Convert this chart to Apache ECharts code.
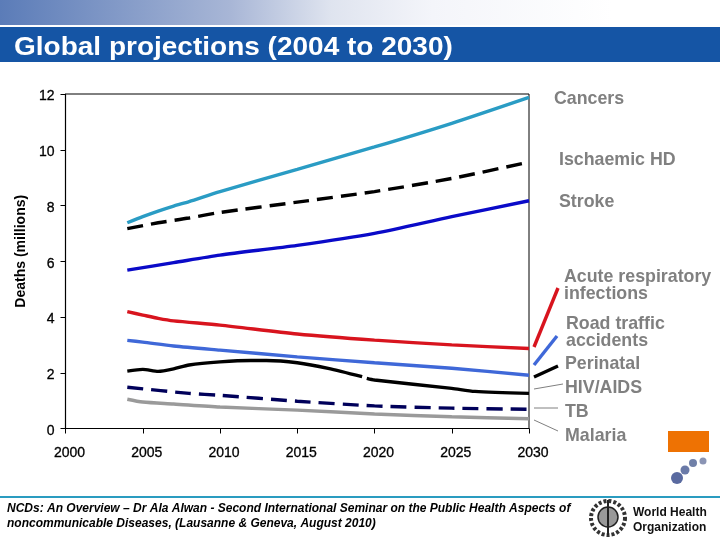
<!DOCTYPE html>
<html><head><meta charset="utf-8">
<style>html,body{margin:0;padding:0;background:#fff}#c{width:720px;height:540px}</style>
<script src="https://cdn.jsdelivr.net/npm/echarts@6/dist/echarts.min.js"></script>
</head><body><div id="c"></div>
<script>
const titleText = 'Global projections (2004 to 2030)';
const yAxisName = 'Deaths (millions)';
const footerLines = ['NCDs: An Overview – Dr Ala Alwan - Second International Seminar on the Public Health Aspects of', 'noncommunicable Diseases, (Lausanne & Geneva, August 2010)'];
const cancers = [[2004,7.38],[2005,7.6],[2006,7.8],[2007,7.98],[2008,8.14],[2010,8.5],[2015,9.3],[2020,10.1],[2025,10.95],[2030,11.88]];
const ischaemic = [[2004,7.17],[2006,7.38],[2008,7.55],[2010,7.75],[2015,8.12],[2020,8.5],[2025,8.97],[2030,9.56]];
const stroke = [[2004,5.68],[2007,5.95],[2010,6.22],[2015,6.57],[2020,7.0],[2025,7.6],[2030,8.17]];
const respiratory = [[2004,4.19],[2005,4.07],[2006,3.95],[2007,3.86],[2010,3.71],[2015,3.39],[2020,3.17],[2025,3.0],[2030,2.87]];
const road = [[2004,3.16],[2005,3.1],[2007,2.96],[2010,2.81],[2015,2.57],[2020,2.36],[2025,2.16],[2030,1.91]];
const hiv = [[2004,2.06],[2005,2.12],[2006,2.05],[2007,2.14],[2008,2.28],[2010,2.39],[2012,2.44],[2013,2.44],[2015,2.36],[2017,2.16],[2019.2,1.86],[2019.3,null],[2019.5,1.8],[2020,1.74],[2025,1.44],[2026.5,1.33],[2030,1.26]];
const tb = [[2004,1.48],[2008,1.26],[2010,1.19],[2015,0.98],[2020,0.81],[2025,0.73],[2030,0.69]];
const malaria = [[2004,1.05],[2005,0.95],[2007,0.88],[2010,0.77],[2015,0.66],[2020,0.52],[2025,0.42],[2030,0.35]];

const line = (name, data, color, dashed, width) => ({
  name, type:'line', data, showSymbol:false, symbol:'none', smooth:0.25, connectNulls:false,
  lineStyle:{color, width:width||3.4, type:dashed?[16,8]:'solid', cap:'butt'}, silent:true, z:3
});
const lab = (t,x,y) => ({type:'text', left:x, top:y, style:{text:t, fill:'#808080', font:'bold 17.8px "Liberation Sans", Arial, sans-serif', lineHeight:17}, silent:true});
const seg = (x1,y1,x2,y2,color,w) => ({type:'line', shape:{x1,y1,x2,y2}, style:{stroke:color,lineWidth:w}, silent:true});

const chart = echarts.init(document.getElementById('c'), null, {renderer:'canvas'});
chart.setOption({
  animation:false,
  backgroundColor:'#fff',
  grid:{left:65.5, right:191, top:94, bottom:111.5, containLabel:false, show:true, backgroundColor:'transparent', borderColor:'#000', borderWidth:1},
  xAxis:{type:'value', min:2000, max:2030, interval:5,
    axisLine:{show:true, onZero:false, lineStyle:{color:'#000',width:1.2}},
    axisTick:{show:true, length:5, inside:false, lineStyle:{color:'#000'}},
    splitLine:{show:false},
    axisLabel:{color:'#000', fontSize:14, fontFamily:'"Liberation Sans", Arial, sans-serif', margin:18, padding:[0,0,0,8], hideOverlap:false, showMinLabel:true, showMaxLabel:true,
      textBorderColor:'#000', textBorderWidth:0.3, formatter:v=>String(v)}},
  yAxis:{type:'value', min:0, max:12, interval:2,
    axisLine:{show:true, lineStyle:{color:'#000',width:1.2}},
    axisTick:{show:true, length:5, lineStyle:{color:'#000'}},
    splitLine:{show:false},
    name:yAxisName, nameLocation:'middle', nameGap:37, nameRotate:90,
    nameTextStyle:{color:'#000', fontSize:14, fontWeight:'bold', fontFamily:'"Liberation Sans", Arial, sans-serif', padding:[0,0,0,20]},
    axisLabel:{color:'#000', fontSize:14, fontFamily:'"Liberation Sans", Arial, sans-serif', margin:11, verticalAlign:'top', lineHeight:5, textBorderColor:'#000', textBorderWidth:0.3, showMinLabel:true, showMaxLabel:true}},
  series:[
    line('Cancers',cancers,'#2a9cc4'),
    line('Ischaemic HD',ischaemic,'#000',true),
    line('Stroke',stroke,'#0a0ac8'),
    line('Acute respiratory infections',respiratory,'#d8141e'),
    line('Road traffic accidents',road,'#3f68d8'),
    line('HIV/AIDS',hiv,'#000'),
    line('TB',tb,'#00005a',true),
    line('Malaria',malaria,'#9a9a9a')
  ],
  graphic:[
    {type:'rect', shape:{x:0,y:0,width:720,height:25}, style:{fill:new echarts.graphic.LinearGradient(0,0,1,0,[{offset:0,color:'#5b7cb8'},{offset:0.32,color:'#a8b6d6'},{offset:0.46,color:'#dfe4ef'},{offset:0.6,color:'#f4f5fa'},{offset:0.85,color:'#ffffff'},{offset:1,color:'#ffffff'}])}, silent:true},
    {type:'rect', shape:{x:0,y:27,width:720,height:35}, style:{fill:'#1555a5'}, silent:true},
    {type:'text', x:14, y:35, scaleY:0.92, style:{text:titleText, fill:'#fff', font:'bold 28px "Liberation Sans", Arial, sans-serif'}, silent:true},
    lab('Cancers',554,90),
    lab('Ischaemic HD',559,151),
    lab('Stroke',559,193),
    lab('Acute respiratory\ninfections',564,268),
    lab('Road traffic\naccidents',566,315),
    lab('Perinatal',565,355),
    lab('HIV/AIDS',565,379),
    lab('TB',565,403),
    lab('Malaria',565,427),
    seg(534,347,558,288,'#d8141e',3.4),
    seg(534,365,557,336,'#3f68d8',3.4),
    seg(534,377,558,366,'#000',3.4),
    seg(534,389,563,384,'#808080',1),
    seg(534,408,558,408,'#808080',1),
    seg(534,420,558,431,'#808080',1),
    {type:'rect', shape:{x:668,y:431,width:41,height:21}, style:{fill:'#ee7203'}, silent:true},
    {type:'circle', shape:{cx:677,cy:478,r:6}, style:{fill:'#5a6aa0'}, silent:true},
    {type:'circle', shape:{cx:685,cy:470,r:4.5}, style:{fill:'#6a7aa8'}, silent:true},
    {type:'circle', shape:{cx:693,cy:463,r:4}, style:{fill:'#7080a8'}, silent:true},
    {type:'circle', shape:{cx:703,cy:461,r:3.5}, style:{fill:'#8a94b4'}, silent:true},
    {type:'rect', shape:{x:0,y:496,width:720,height:2}, style:{fill:'#2a9cc0'}, silent:true},
    {type:'text', left:7, top:501, style:{text:footerLines.join('\n'), fill:'#000', font:'italic bold 12px "Liberation Sans", Arial, sans-serif', lineHeight:15}, silent:true},
    {type:'circle', shape:{cx:608,cy:518,r:17}, style:{fill:'#fff',stroke:'#333',lineWidth:4,lineDash:[3,2]}, silent:true},
    {type:'circle', shape:{cx:608,cy:517,r:10}, style:{fill:'#999',stroke:'#222',lineWidth:1.5}, silent:true},
    {type:'line', shape:{x1:608,y1:500,x2:608,y2:535}, style:{stroke:'#222',lineWidth:2}, silent:true},
    {type:'text', left:633, top:505, style:{text:'World Health\nOrganization', fill:'#111', font:'bold 12px "Liberation Sans", Arial, sans-serif', lineHeight:15}, silent:true}
  ]
});
</script></body></html>
